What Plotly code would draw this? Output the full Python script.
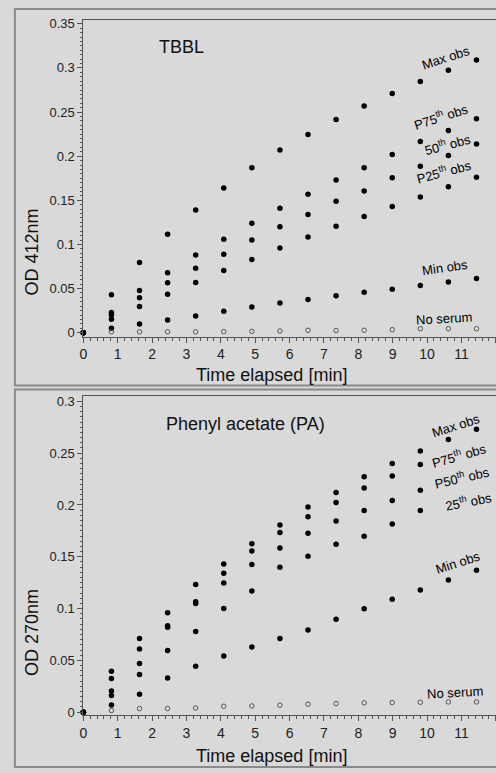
import plotly.graph_objects as go

W, H = 496, 773

time_min = [0, 0.817, 1.634, 2.451, 3.268, 4.085, 4.902, 5.719, 6.536, 7.353, 8.17, 8.987, 9.804, 10.621, 11.438]

# TBBL panel (OD 412nm)
tbbl_max = [0, 0.043, 0.0794, 0.1115, 0.139, 0.164, 0.187, 0.207, 0.2245, 0.2416, 0.257, 0.271, 0.2846, 0.2975, 0.309]
tbbl_p75 = [0, 0.023, 0.0477, 0.0679, 0.088, 0.106, 0.124, 0.141, 0.157, 0.173, 0.187, 0.202, 0.2167, 0.229, 0.2424]
tbbl_p50 = [0, 0.020, 0.0396, 0.0567, 0.073, 0.089, 0.105, 0.120, 0.134, 0.149, 0.1605, 0.1756, 0.1887, 0.2007, 0.2137]
tbbl_p25 = [0, 0.0153, 0.0298, 0.0436, 0.057, 0.0705, 0.083, 0.096, 0.1085, 0.1205, 0.1317, 0.143, 0.1537, 0.1655, 0.176]
tbbl_min = [0, 0.005, 0.0097, 0.0145, 0.019, 0.0243, 0.029, 0.0336, 0.0377, 0.0418, 0.0459, 0.0492, 0.0534, 0.0575, 0.0615]
tbbl_noserum = [None, 0.001, 0.001, 0.001, 0.001, 0.0012, 0.0015, 0.0019, 0.0027, 0.0025, 0.0027, 0.0034, 0.0045, 0.0045, 0.0045]

# Phenyl acetate panel (OD 270nm)
pa_max = [0, 0.0396, 0.0711, 0.096, 0.1233, 0.143, 0.1625, 0.1807, 0.198, 0.212, 0.2272, 0.240, 0.2521, 0.2633, 0.273]
pa_p75 = [0, 0.0325, 0.0609, 0.0835, 0.1065, 0.134, 0.1555, 0.1734, 0.1887, 0.2024, 0.2164, 0.228, 0.239, None, None]
pa_p50 = [0, 0.0205, 0.0469, 0.082, 0.105, 0.1247, 0.1425, 0.1584, 0.1727, 0.1845, 0.1947, 0.2043, 0.2142, None, None]
pa_p25 = [0, 0.016, 0.0363, 0.0596, 0.0778, 0.100, 0.117, 0.140, 0.1505, 0.1622, 0.1699, 0.1816, 0.1947, None, None]
pa_min = [0, 0.007, 0.0172, 0.0329, 0.0444, 0.0542, 0.063, 0.0711, 0.0794, 0.0896, 0.0998, 0.109, 0.118, 0.1275, 0.137]
pa_noserum = [None, 0.0016, 0.0035, 0.0035, 0.004, 0.0057, 0.006, 0.0067, 0.0077, 0.0083, 0.009, 0.0093, 0.0096, 0.0099, 0.0099]

FONT = "Liberation Sans, Arial, sans-serif"
BG = "#d9d9d9"

def px(x):
    return x / W

def py(y):
    return 1 - y / H

fig = go.Figure()

def add_panel(series, noserum, xa, ya):
    for s in series:
        fig.add_trace(go.Scatter(x=time_min, y=s, mode="markers", xaxis=xa, yaxis=ya,
                                 marker=dict(color="black", size=5.5, line=dict(width=0)),
                                 cliponaxis=False, showlegend=False))
    fig.add_trace(go.Scatter(x=time_min, y=noserum, mode="markers", xaxis=xa, yaxis=ya,
                             marker=dict(color="#555555", size=4.5, symbol="circle-open", line=dict(width=1, color="#555555")),
                             cliponaxis=False, showlegend=False))

add_panel([tbbl_max, tbbl_p75, tbbl_p50, tbbl_p25, tbbl_min], tbbl_noserum, "x", "y")
add_panel([pa_max, pa_p75, pa_p50, pa_p25, pa_min], pa_noserum, "x2", "y2")

xr = [0, 416 / 34.65]
axis_common = dict(showgrid=False, zeroline=False, showline=True, linecolor="#555555", linewidth=1,
                   ticks="outside", tickcolor="#555555", ticklen=5, tickwidth=1,
                   tickfont=dict(family=FONT, size=13, color="#222222"))
xfont = dict(family=FONT, size=14, color="#222222")

fig.update_layout(
    width=W, height=H,
    margin=dict(l=0, r=0, t=0, b=0),
    paper_bgcolor=BG, plot_bgcolor=BG,
    xaxis=dict(domain=[px(80), 1], range=xr, anchor="y", dtick=1, tick0=0, mirror=True,
               minor=dict(dtick=0.2, ticklen=3, tickcolor="#555555", ticks="outside"),
               **{**axis_common, "tickfont": xfont}),
    yaxis=dict(domain=[py(336.7), py(17)], range=[-0.0045, 0.3545], anchor="x", dtick=0.05, tick0=0,
               minor=dict(dtick=0.005, ticklen=2, tickcolor="#555555", ticks="outside"),
               **axis_common),
    xaxis2=dict(domain=[px(80), 1], range=xr, anchor="y2", dtick=1, tick0=0, mirror=True,
                minor=dict(dtick=0.2, ticklen=3, tickcolor="#555555", ticks="outside"),
                **{**axis_common, "tickfont": xfont}),
    yaxis2=dict(domain=[py(719), py(397)], range=[-0.0032, 0.3048], anchor="x2", dtick=0.05, tick0=0,
                minor=dict(dtick=0.005, ticklen=2, tickcolor="#555555", ticks="outside"),
                **axis_common),
)

# outer panel frames
for (y0, y1) in [(6, 386), (390, 771)]:
    fig.add_shape(type="rect", xref="paper", yref="paper", x0=px(11), x1=px(520), y0=py(y1), y1=py(y0),
                  line=dict(color="#8a8a8a", width=2), fillcolor="rgba(0,0,0,0)", layer="below")

def ann(text, x, y, size=13, angle=0, color="black"):
    fig.add_annotation(text=text, x=px(x), y=py(y), xref="paper", yref="paper", showarrow=False,
                       textangle=angle, xanchor="center", yanchor="middle",
                       font=dict(family=FONT, size=size, color=color))

# panel titles
ann("TBBL", 179, 44, size=18, color="#111111")
ann("Phenyl acetate (PA)", 243, 425, size=18, color="#111111")

# axis titles
ann("OD 412nm", 28, 251, size=18, angle=-90, color="#111111")
ann("OD 270nm", 28, 635, size=18, angle=-90, color="#111111")
ann("Time elapsed [min]", 270, 375, size=18, color="#111111")
ann("Time elapsed [min]", 270, 760, size=18, color="#111111")

# series labels, TBBL
ann("Max obs", 446, 55, angle=-18)
ann("P75<sup>th</sup> obs", 441, 114, angle=-18)
ann("50<sup>th</sup> obs", 447, 142, angle=-15)
ann("P25<sup>th</sup> obs", 444, 170, angle=-15)
ann("Min obs", 445, 267, angle=-8)
ann("No serum", 444, 318, angle=-3)

# series labels, PA
ann("Max obs", 456, 426, angle=-18)
ann("P75<sup>th</sup> obs", 459, 456, angle=-16)
ann("P50<sup>th</sup> obs", 462, 478, angle=-13)
ann("25<sup>th</sup> obs", 468, 503, angle=-11)
ann("Min obs", 458, 565, angle=-18)
ann("No serum", 455, 696, angle=-3)

fig.write_html("out.html", config={"displayModeBar": False},
               post_script="document.body.style.margin='0';document.body.style.overflow='hidden';")
